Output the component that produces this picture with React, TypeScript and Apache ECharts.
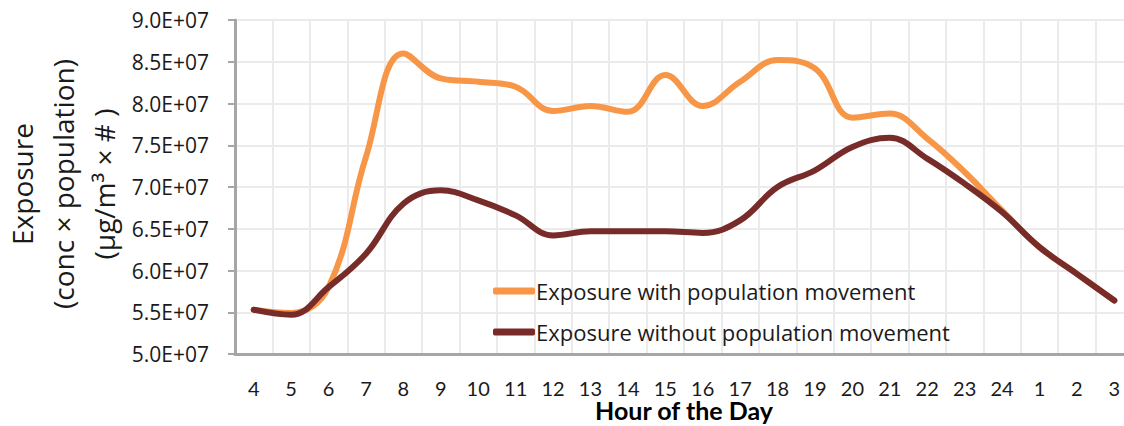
import React, { useEffect, useRef } from "react";
import * as echarts from "echarts";

const hours = ["4","5","6","7","8","9","10","11","12","13","14","15","16","17","18","19","20","21","22","23","24","1","2","3"];
const withMovement = [5.53e7,5.49e7,5.80e7,7.36e7,8.60e7,8.30e7,8.26e7,8.20e7,7.91e7,7.97e7,7.90e7,8.34e7,7.97e7,8.26e7,8.52e7,8.42e7,7.83e7,7.88e7,7.58e7,7.18e7,6.72e7,6.28e7,5.96e7,5.64e7];
const withoutMovement = [5.53e7,5.47e7,5.80e7,6.20e7,6.80e7,6.96e7,6.84e7,6.66e7,6.42e7,6.47e7,6.47e7,6.47e7,6.45e7,6.60e7,7.00e7,7.20e7,7.48e7,7.59e7,7.34e7,7.04e7,6.70e7,6.28e7,5.96e7,5.64e7];
const seriesNames = ["Exposure with population movement", "Exposure without population movement"];
const yTitleLines = ["Exposure", "(conc × population)", "(μg/m³ × # )"];
const xTitle = "Hour of the Day";

export default function App() {
  const ref = useRef<HTMLDivElement>(null);
  useEffect(() => {
    if (!ref.current) return;
    const chart = echarts.init(ref.current, null, { renderer: "svg" });
    chart.setOption({
      animation: false,
      backgroundColor: "#ffffff",
      grid: {
        left: 235, top: 20, width: 898, height: 334,
        outerBoundsMode: "none",
        containLabel: false,
        show: true, borderColor: "#c8c8c8", borderWidth: 2,
      },
      legend: {
        orient: "vertical",
        left: 488, top: 274,
        itemWidth: 42, itemHeight: 7, itemGap: 17,
        icon: "roundRect",
        data: seriesNames,
        textStyle: { fontFamily: "Open Sans", fontSize: 22, color: "#1a1a1a", lineHeight: 24, padding: [0, 0, 0, -4] },
      },
      xAxis: {
        type: "category",
        data: hours,
        boundaryGap: true,
        name: xTitle,
        nameLocation: "middle",
        nameGap: 43,
        nameMoveOverlap: false,
        nameTextStyle: { fontFamily: "Lato", fontWeight: "bold", fontSize: 25, color: "#000" },
        axisLine: { show: true, lineStyle: { color: "#a6a6a6", width: 3 } },
        axisTick: { show: false },
        axisLabel: { margin: 24, fontFamily: "Lato", fontSize: 20, color: "#1a1a1a", interval: 0 },
        splitLine: { show: true, interval: 0, lineStyle: { color: "#ebebeb", width: 2 } },
      },
      yAxis: {
        type: "value",
        min: 5e7, max: 9e7, interval: 5e6,
        axisLine: { show: true, lineStyle: { color: "#a6a6a6", width: 3 } },
        axisTick: { show: true, length: 7, lineStyle: { color: "#a6a6a6", width: 2 } },
        axisLabel: {
          margin: 26, fontFamily: "Open Sans", fontSize: 21, color: "#1a1a1a",
          formatter: (v: number) => (v / 1e7).toFixed(1) + "E+07",
        },
        splitLine: { show: true, lineStyle: { color: "#ebebeb", width: 2 } },
      },
      graphic: [
        {
          type: "text",
          x: 63, y: 184,
          rotation: Math.PI / 2,
          style: {
            text: yTitleLines.join("\n"),
            fontFamily: "Open Sans", fontSize: 28, lineHeight: 41,
            fill: "#1a1a1a", align: "center", verticalAlign: "middle",
          },
        },
      ],
      series: [
        {
          name: seriesNames[0], type: "line", data: withMovement, smooth: 0.4,
          showSymbol: false, symbol: "none",
          lineStyle: { color: "#F79646", width: 6, cap: "round" },
          itemStyle: { color: "#F79646" },
          z: 2,
        },
        {
          name: seriesNames[1], type: "line", data: withoutMovement, smooth: 0.4,
          showSymbol: false, symbol: "none",
          lineStyle: { color: "#772C2A", width: 6, cap: "round" },
          itemStyle: { color: "#772C2A" },
          z: 3,
        },
      ],
    });
    return () => chart.dispose();
  }, []);
  return <div ref={ref} style={{ position: "absolute", left: 0, top: 0, width: 1124, height: 426, overflow: "hidden" }} />;
}
